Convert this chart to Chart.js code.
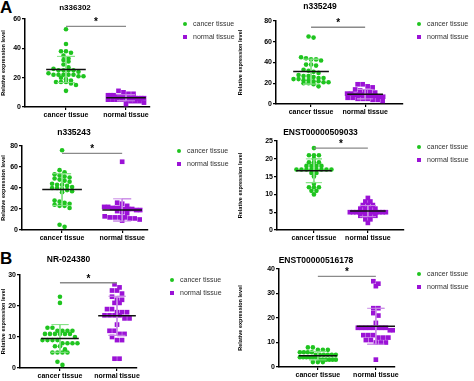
<!DOCTYPE html>
<html>
<head>
<meta charset="utf-8">
<script src="https://cdn.jsdelivr.net/npm/chart.js@4.4.1/dist/chart.umd.min.js"></script>
<style>
  body { margin: 0; width: 474px; height: 381px; overflow: hidden; background: #fff; position: relative;
         font-family: "Liberation Sans", Arial, sans-serif; }
  canvas { position: absolute; }
  .letter { position: absolute; font-weight: bold; font-size: 17px; line-height: 17px; color: #000; }
  .legend { position: absolute; font-size: 7px; color: #333; line-height: 12.5px; white-space: nowrap; }
  .legend span.mk { display: inline-block; width: 4px; height: 4px; margin-right: 6px; vertical-align: middle; }
</style>
</head>
<body>
<div class="letter" style="left:0;top:-1px">A</div>
<div class="letter" style="left:0;top:250px">B</div>
<script>
// ---- data ----
const groups = ['cancer tissue', 'normal tissue'];
const titles = ['n336302', 'n335249', 'n335243', 'ENST00000509033', 'NR-024380', 'ENST00000516178'];

const cancerN336302 = [53, 43, 38, 38, 37, 35, 33, 32, 31, 29, 27, 26, 25, 25, 25, 25, 24, 23, 22, 22, 22, 22, 22, 21, 21, 20, 19, 18, 17, 17, 17, 16, 15, 11];
const normalN336302 = [11, 10, 9, 9, 8, 8, 8, 7, 7, 7, 7, 7, 6, 6, 6, 6, 6, 6, 5, 5, 5, 5, 5, 4, 4, 4, 3, 2];

const cancerN335249 = [65, 64, 45, 44, 43, 43, 42, 38, 38, 37, 33, 32, 31, 30, 28, 27, 27, 26, 25, 25, 24, 24, 23, 23, 22, 22, 21, 21, 20, 20, 19, 17];
const normalN335249 = [19, 19, 17, 16, 14, 13, 12, 12, 11, 10, 10, 9, 9, 9, 8, 8, 8, 7, 7, 6, 6, 5, 5, 5, 4, 4, 3];

const cancerN335243 = [76, 57, 55, 53, 52, 51, 50, 49, 48, 47, 46, 44, 43, 43, 42, 41, 40, 40, 39, 38, 37, 36, 28, 27, 26, 25, 24, 23, 23, 21, 5, 3];
const normalN335243 = [65, 26, 25, 23, 22, 22, 21, 21, 21, 20, 20, 20, 19, 19, 18, 17, 16, 13, 12, 12, 12, 12, 11, 11, 10, 9];

const cancerENST509033 = [23, 21, 21, 21, 20, 19, 19, 19, 18, 18, 18, 18, 17, 17, 17, 17, 17, 17, 17, 17, 16, 16, 15, 13, 12, 12, 12, 11, 11, 10];
const normalENST509033 = [9, 8, 8, 7, 7, 7, 6, 6, 6, 6, 5, 5, 5, 5, 5, 5, 5, 5, 5, 5, 5, 5, 4, 4, 4, 4, 3, 3, 2];

const cancerNR024380 = [23, 21, 13, 13, 12, 12, 12, 12, 11, 11, 11, 11, 11, 11, 10, 9, 9, 9, 9, 8, 8, 8, 8, 7, 7, 6, 5, 5, 5, 5, 2, 1];
const normalNR024380 = [27, 26, 25, 25, 24, 23, 22, 22, 21, 21, 19, 19, 18, 18, 18, 17, 17, 17, 17, 16, 16, 14, 12, 12, 11, 11, 10, 9, 9, 3, 3];

const cancerENST516178 = [8, 8, 7, 7, 7, 6, 6, 6, 6, 5, 5, 5, 5, 5, 5, 4, 4, 4, 4, 4, 4, 3, 3, 3, 3, 3, 3, 2, 2, 2];
const normalENST516178 = [35, 34, 33, 24, 24, 22, 21, 18, 16, 16, 16, 16, 16, 16, 16, 16, 15, 15, 13, 13, 13, 12, 12, 12, 11, 11, 10, 10, 10, 3];

const cancerSets = [cancerN336302, cancerN335249, cancerN335243, cancerENST509033, cancerNR024380, cancerENST516178];
const normalSets = [normalN336302, normalN335249, normalN335243, normalENST509033, normalNR024380, normalENST516178];

const yMaxes = [60, 80, 80, 25, 30, 40];
const ySteps = [20, 20, 20, 5, 10, 10];
const sigLevels = [55, 74, 73, 23, 27.5, 37];

// ---- layout (canvas box, plot box, title centre y, axis range, legend spot) ----
const panels = [
  { l: 0,   t: 0,   w: 190, h: 122, L: 25,  R: 150, T: 19,  B: 107, ty: 8,   fs: 8,   xMin: 0.317, xMax: 2.40, lg: [183, 18] },
  { l: 237, t: 0,   w: 204, h: 119, L: 276, R: 403, T: 21,  B: 104, ty: 7,   fs: 8.5, xMin: 0.352, xMax: 2.70, lg: [417, 18] },
  { l: 0,   t: 120, w: 184, h: 125, L: 22,  R: 148, T: 146, B: 230, ty: 133, fs: 8.5, xMin: 0.333, xMax: 2.43, lg: [177, 145] },
  { l: 237, t: 120, w: 206, h: 125, L: 277, R: 404, T: 141, B: 230, ty: 133, fs: 8.5, xMin: 0.315, xMax: 2.67, lg: [417, 141] },
  { l: 0,   t: 245, w: 174, h: 138, L: 20,  R: 137, T: 275, B: 368, ty: 260, fs: 8.5, xMin: 0.30,  xMax: 2.35, lg: [170, 274] },
  { l: 237, t: 245, w: 220, h: 137, L: 279, R: 395, T: 269, B: 367, ty: 261, fs: 8.5, xMin: 0.33,  xMax: 2.33, lg: [417, 268] }
];

const GREEN = '#1fc41f';
const PURPLE = '#9b12d6';
const GREEN_SD = '#86e286';
const PURPLE_SD = '#c98ae6';

function mean(a) { return a.reduce((s, v) => s + v, 0) / a.length; }
function sd(a) { const m = mean(a); return Math.sqrt(a.reduce((s, v) => s + (v - m) * (v - m), 0) / (a.length - 1)); }

function meanSdSets(vals, c, sdColor) {
  const m = mean(vals), s = sd(vals);
  const hi = m + s, lo = Math.max(m - s, 0);
  return [
    { data: [{ x: c - 0.33, y: m }, { x: c + 0.33, y: m }], showLine: true, borderColor: '#111', borderWidth: 1.5, pointRadius: 0, order: 0 },
    { data: [{ x: c - 0.15, y: hi }, { x: c + 0.15, y: hi }, { x: c, y: hi }, { x: c, y: lo }, { x: c - 0.15, y: lo }, { x: c + 0.15, y: lo }],
      showLine: true, borderColor: sdColor, borderWidth: 1, pointRadius: 0, order: 1 }
  ];
}

// GraphPad-like scatter: points grouped in rows, each row centred on the category
function swarm(chart, vals, c, step, rowH, maxW) {
  const xs = chart.scales.x, ys = chart.scales.y;
  const cx = xs.getPixelForValue(c);
  const sorted = vals.slice().sort((a, b) => b - a);
  const rows = [];
  sorted.forEach(v => {
    const py = ys.getPixelForValue(v);
    const row = rows[rows.length - 1];
    if (row && py - row.py0 < rowH) row.vals.push(v);
    else rows.push({ py0: py, vals: [v] });
  });
  const out = [];
  rows.forEach(row => {
    const n = row.vals.length;
    const sp = n > 1 ? Math.min(step, maxW / (n - 1)) : 0;
    row.vals.forEach((v, k) => {
      const px = cx + (k - (n - 1) / 2) * sp;
      out.push({ x: xs.getValueForPixel(px), y: v });
    });
  });
  return out;
}

const starPlugin = {
  id: 'star',
  afterDatasetsDraw(chart, args, opts) {
    const { ctx, scales } = chart;
    ctx.save();
    ctx.font = 'bold 10px "Liberation Sans", Arial, sans-serif';
    ctx.fillStyle = '#000';
    ctx.textAlign = 'center';
    ctx.textBaseline = 'alphabetic';
    ctx.fillText('*', scales.x.getPixelForValue(1.5), scales.y.getPixelForValue(opts.level) - 1);
    ctx.restore();
  }
};

panels.forEach((p, i) => {
  const cv = document.createElement('canvas');
  cv.style.left = p.l + 'px';
  cv.style.top = p.t + 'px';
  cv.style.width = p.w + 'px';
  cv.style.height = p.h + 'px';
  cv.width = p.w; cv.height = p.h;
  document.body.appendChild(cv);

  const cancer = cancerSets[i], normal = normalSets[i];
  const datasets = [
    { label: groups[0], data: cancer.map(v => ({ x: 1, y: v })), pointStyle: 'circle', pointRadius: 2.3,
      backgroundColor: GREEN, borderColor: GREEN, borderWidth: 0, order: 3 },
    { label: groups[1], data: normal.map(v => ({ x: 2, y: v })), pointStyle: 'rect', pointRadius: 3.3,
      backgroundColor: PURPLE, borderColor: PURPLE, borderWidth: 0, order: 3 },
    ...meanSdSets(cancer, 1, GREEN_SD),
    ...meanSdSets(normal, 2, PURPLE_SD),
    { data: [{ x: 1, y: sigLevels[i] }, { x: 2, y: sigLevels[i] }], showLine: true, borderColor: '#8a8a8a',
      borderWidth: 1.3, pointRadius: 0, order: 2 }
  ];

  const tickFont = { family: '"Liberation Sans", Arial, sans-serif', size: 7, weight: 'bold' };
  const chart = new Chart(cv, {
    type: 'scatter',
    data: { datasets },
    plugins: [starPlugin],
    options: {
      responsive: false,
      animation: false,
      events: [],
      layout: { padding: { left: 0, right: (p.l + p.w) - p.R, top: 0, bottom: 0 } },
      plugins: {
        legend: { display: false },
        tooltip: { enabled: false },
        star: { level: sigLevels[i] },
        title: {
          display: true, text: titles[i], color: '#000',
          font: { family: '"Liberation Sans", Arial, sans-serif', size: p.fs, weight: 'bold', lineHeight: 1.2 },
          padding: { top: p.ty - p.t - p.fs * 0.6, bottom: p.T - p.ty - p.fs * 0.6 }
        }
      },
      scales: {
        x: {
          type: 'linear', min: p.xMin, max: p.xMax,
          afterBuildTicks: s => { s.ticks = [{ value: 1 }, { value: 2 }]; },
          afterFit: s => { s.height = (p.t + p.h) - p.B; },
          border: { color: '#000', width: 1.5 },
          grid: { display: true, drawOnChartArea: false, drawTicks: true, tickLength: 3, color: '#000', lineWidth: 1.2 },
          ticks: { autoSkip: false, maxRotation: 0, padding: 1, color: '#000', font: tickFont,
                   callback: v => groups[Math.round(v) - 1] }
        },
        y: {
          min: 0, max: yMaxes[i],
          afterFit: s => { s.width = p.L - p.l; },
          border: { color: '#000', width: 1.5 },
          grid: { display: true, drawOnChartArea: false, drawTicks: true, tickLength: 3, color: '#000', lineWidth: 1.2 },
          ticks: { stepSize: ySteps[i], padding: 1, color: '#000', font: tickFont },
          title: { display: true, text: 'Relative expression level', color: '#000', padding: 0,
                   font: { family: '"Liberation Sans", Arial, sans-serif', size: 5.5, weight: 'bold' } }
        }
      }
    }
  });

  chart.data.datasets[0].data = swarm(chart, cancer, 1, 5, 3.5, 36);
  chart.data.datasets[1].data = swarm(chart, normal, 2, 5, 3.5, 36);
  chart.update('none');

  // legend
  const lg = document.createElement('div');
  lg.className = 'legend';
  lg.style.left = p.lg[0] + 'px';
  lg.style.top = p.lg[1] + 'px';
  lg.innerHTML =
    '<div><span class="mk" style="background:' + GREEN + ';border-radius:50%"></span>' + groups[0] + '</div>' +
    '<div><span class="mk" style="background:' + PURPLE + '"></span>' + groups[1] + '</div>';
  document.body.appendChild(lg);
});
</script>
</body>
</html>
